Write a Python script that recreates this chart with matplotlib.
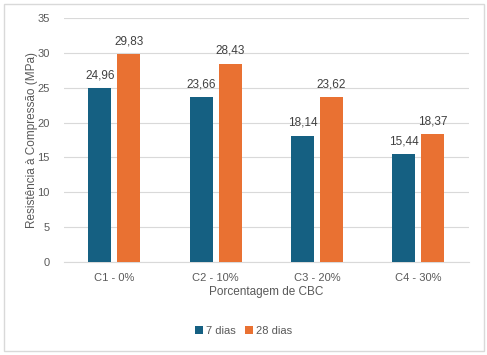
import matplotlib
matplotlib.use("Agg")
import matplotlib.pyplot as plt
import numpy as np
from matplotlib.patches import Rectangle

categories = ["C1 - 0%", "C2 - 10%", "C3 - 20%", "C4 - 30%"]
dias7 = [24.96, 23.66, 18.14, 15.44]
dias28 = [29.83, 28.43, 23.62, 18.37]
series_names = ["7 dias", "28 dias"]
yticks = [0, 5, 10, 15, 20, 25, 30, 35]

c_blue = "#156082"
c_orange = "#E97132"
txt = "#595959"

plt.rcParams['font.family'] = ['Liberation Sans', 'DejaVu Sans']

fig = plt.figure(figsize=(4.87, 3.55), dpi=100)
ax = fig.add_axes([0.131, 0.262, 0.832, 0.687])

x = np.arange(len(categories))
w = 0.227
off = 0.143
b1 = ax.bar(x - off, dias7, w, color=c_blue, label=series_names[0], zorder=3)
b2 = ax.bar(x + off, dias28, w, color=c_orange, label=series_names[1], zorder=3)

for bars, vals in ((b1, dias7), (b2, dias28)):
    for r, v in zip(bars, vals):
        ax.text(r.get_x() + r.get_width() / 2, v + 1.0, f"{v:.2f}".replace(".", ","),
                ha="center", va="bottom", fontsize=8.5, color="#404040")

ax.set_xlim(-0.5, len(categories) - 0.5)
ax.set_ylim(0, 35)
ax.set_yticks(yticks)
ax.set_xticks(x)
ax.set_xticklabels(categories)
ax.tick_params(axis="both", length=0, labelsize=8, colors=txt)
ax.tick_params(axis="y", pad=10)
ax.tick_params(axis="x", pad=8)
ax.grid(axis="y", color="#d9d9d9", linewidth=0.8, zorder=0)
for s in ["top", "right", "left"]:
    ax.spines[s].set_visible(False)
ax.spines["bottom"].set_color("#d9d9d9")
ax.spines["bottom"].set_linewidth(0.8)

ax.set_xlabel("Porcentagem de CBC", fontsize=8.5, color=txt, labelpad=2)
ax.set_ylabel("Resistência à Compressão (MPa)", fontsize=8.5, color=txt, labelpad=0)

leg = fig.legend(handles=[b1, b2], loc="center", bbox_to_anchor=(0.5, 0.067), ncol=2,
                 frameon=False, fontsize=8, handlelength=0.7, handleheight=0.7,
                 handletextpad=0.3, columnspacing=0.8)
for t in leg.get_texts():
    t.set_color(txt)

fig.patches.append(Rectangle((0.008, 0.012), 0.985, 0.976, transform=fig.transFigure,
                             fill=False, edgecolor="#d9d9d9", linewidth=1))

fig.savefig("out.png", dpi=100)
